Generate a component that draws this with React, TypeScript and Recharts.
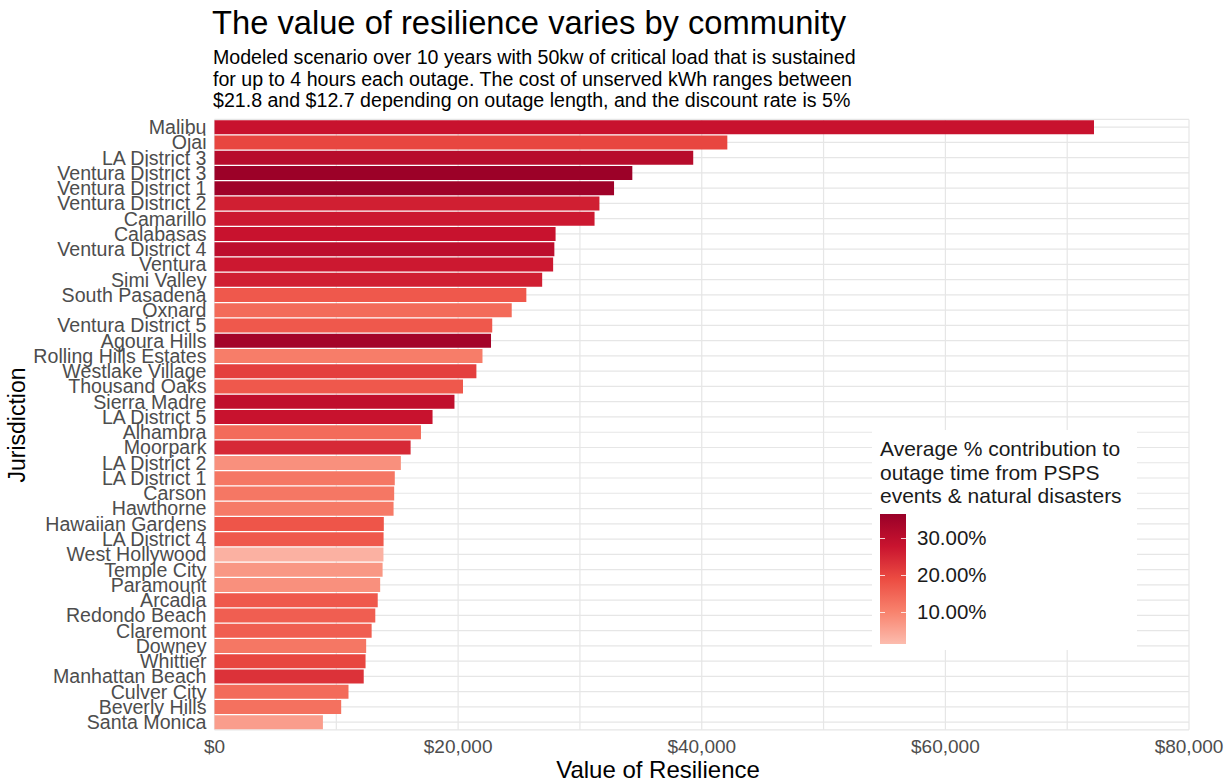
import React from 'react';
import { BarChart, Bar, XAxis, YAxis, CartesianGrid, Cell } from 'recharts';

const jurisdictions = [
  'Malibu', 'Ojai', 'LA District 3', 'Ventura District 3', 'Ventura District 1',
  'Ventura District 2', 'Camarillo', 'Calabasas', 'Ventura District 4', 'Ventura',
  'Simi Valley', 'South Pasadena', 'Oxnard', 'Ventura District 5', 'Agoura Hills',
  'Rolling Hills Estates', 'Westlake Village', 'Thousand Oaks', 'Sierra Madre', 'LA District 5',
  'Alhambra', 'Moorpark', 'LA District 2', 'LA District 1', 'Carson',
  'Hawthorne', 'Hawaiian Gardens', 'LA District 4', 'West Hollywood', 'Temple City',
  'Paramount', 'Arcadia', 'Redondo Beach', 'Claremont', 'Downey',
  'Whittier', 'Manhattan Beach', 'Culver City', 'Beverly Hills', 'Santa Monica',
];

// value of resilience, $
const resilienceValue = [
  72200, 42100, 39300, 34300, 32800,
  31600, 31200, 28000, 27900, 27800,
  26900, 25600, 24400, 22800, 22700,
  22000, 21500, 20400, 19700, 17900,
  16950, 16100, 15300, 14800, 14750,
  14700, 13900, 13880, 13870, 13800,
  13600, 13400, 13200, 12900, 12450,
  12400, 12250, 11000, 10400, 8900,
];

// average % contribution to outage time from PSPS events & natural disasters
const pspsShare = [
  28, 20, 31, 36, 35.5,
  26, 27, 28, 30, 27,
  26, 17, 14, 17, 34.5,
  11, 21, 17, 29.5, 28,
  14, 24.5, 8, 12, 12,
  11.5, 17.5, 17, 3, 7,
  8, 17, 16, 16, 12,
  20, 23, 14, 13, 6,
];

const xTicks = [0, 10000, 20000, 30000, 40000, 50000, 60000, 70000, 80000];
const legendTicks = [30, 20, 10];
const legendMin = 1.35;
const legendMax = 36.5;

const colorStops: [number, string][] = [
  [1.35, '#fcbcae'],
  [10, '#f8836e'],
  [19, '#ec4c42'],
  [28, '#c8122e'],
  [36.5, '#990028'],
];

const hex = (c: string) => [1, 3, 5].map((i) => parseInt(c.slice(i, i + 2), 16));

function shareColor(p: number) {
  if (p <= colorStops[0][0]) return colorStops[0][1];
  for (let i = 1; i < colorStops.length; i++) {
    const [p1, c1] = colorStops[i];
    const [p0, c0] = colorStops[i - 1];
    if (p <= p1) {
      const t = (p - p0) / (p1 - p0);
      const a = hex(c0);
      const b = hex(c1);
      const m = a.map((v, k) => Math.round(v + (b[k] - v) * t));
      return `rgb(${m[0]},${m[1]},${m[2]})`;
    }
  }
  return colorStops[colorStops.length - 1][1];
}

const data = jurisdictions.map((name, i) => ({
  name,
  value: resilienceValue[i],
  share: pspsShare[i],
}));

const FONT = '"Liberation Sans", Arial, Helvetica, sans-serif';
const money = (v: number) => (v % 20000 === 0 ? '$' + v.toLocaleString('en-US') : '');

const BAR_TOP = 514;
const BAR_H = 130;
const pctY = (p: number) => BAR_TOP + ((legendMax - p) / (legendMax - legendMin)) * BAR_H;

const ShareLegend = () => {
  const gradient = [0, 0.25, 0.5, 0.75, 1]
    .map((f) => `${shareColor(legendMin + f * (legendMax - legendMin))} ${f * 100}%`)
    .join(', ');
  return (
    <div style={{ position: 'absolute', left: 872, top: 430, width: 265, height: 220, background: '#fff' }}>
      <div style={{ position: 'absolute', left: 8, top: 7, fontSize: 21, lineHeight: '23.5px', color: '#1a1a1a', whiteSpace: 'nowrap' }}>
        Average % contribution to<br />outage time from PSPS<br />events &amp; natural disasters
      </div>
      <div
        style={{
          position: 'absolute', left: 8, top: BAR_TOP - 430, width: 26, height: BAR_H,
          background: `linear-gradient(to top, ${gradient})`,
        }}
      />
      {legendTicks.map((t) => (
        <React.Fragment key={t}>
          <div style={{ position: 'absolute', left: 8, top: pctY(t) - 430 - 0.5, width: 5, height: 1, background: 'rgba(255,255,255,0.8)' }} />
          <div style={{ position: 'absolute', left: 29, top: pctY(t) - 430 - 0.5, width: 5, height: 1, background: 'rgba(255,255,255,0.8)' }} />
          <div style={{ position: 'absolute', left: 45, top: pctY(t) - 430 - 12, fontSize: 20.5, lineHeight: '24px', color: '#1a1a1a' }}>
            {t.toFixed(2)}%
          </div>
        </React.Fragment>
      ))}
    </div>
  );
};

export default function App() {
  return (
    <div style={{ position: 'absolute', left: 0, top: 0, width: 1228, height: 782, background: '#fff', fontFamily: FONT }}>
      <BarChart
        width={1228}
        height={782}
        data={data}
        layout="vertical"
        margin={{ top: 119.4, right: 39, bottom: 0, left: 0 }}
        barCategoryGap="5%"
      >
        <CartesianGrid stroke="#e6e6e6" strokeWidth={1.2} />
        <XAxis
          type="number"
          domain={[0, 80000]}
          ticks={xTicks}
          tickFormatter={money}
          axisLine={false}
          tickLine={false}
          tickSize={0}
          tickMargin={10}
          height={52.2}
          tick={{ fontSize: 19, fill: '#4d4d4d', fontFamily: FONT }}
        />
        <YAxis
          type="category"
          dataKey="name"
          width={214.5}
          interval={0}
          axisLine={false}
          tickLine={false}
          tickSize={0}
          tickMargin={8}
          tick={{ fontSize: 19.6, fill: '#4d4d4d', fontFamily: FONT }}
        />
        <Bar dataKey="value" isAnimationActive={false}>
          {data.map((d, i) => (
            <Cell key={`cell-${i}`} fill={shareColor(d.share)} />
          ))}
        </Bar>
      </BarChart>

      <div style={{ position: 'absolute', left: 212, top: 6, fontSize: 32.7, lineHeight: '34px', color: '#000', whiteSpace: 'nowrap' }}>
        The value of resilience varies by community
      </div>
      <div style={{ position: 'absolute', left: 213, top: 47, fontSize: 19.6, lineHeight: '21.5px', color: '#000', whiteSpace: 'nowrap' }}>
        Modeled scenario over 10 years with 50kw of critical load that is sustained<br />
        for up to 4 hours each outage. The cost of unserved kWh ranges between<br />
        $21.8 and $12.7 depending on outage length, and the discount rate is 5%
      </div>
      <div style={{ position: 'absolute', left: 0, width: 1228, paddingLeft: 214.5 + 487.5 - 614, boxSizing: 'border-box', top: 757, fontSize: 24, lineHeight: '26px', color: '#000', textAlign: 'center', whiteSpace: 'nowrap' }}>
        Value of Resilience
      </div>
      <div
        style={{
          position: 'absolute', left: 17, top: 424.7, fontSize: 23, lineHeight: '24px', color: '#000',
          transform: 'translate(-50%, -50%) rotate(-90deg)', whiteSpace: 'nowrap',
        }}
      >
        Jurisdiction
      </div>
      <ShareLegend />
    </div>
  );
}
